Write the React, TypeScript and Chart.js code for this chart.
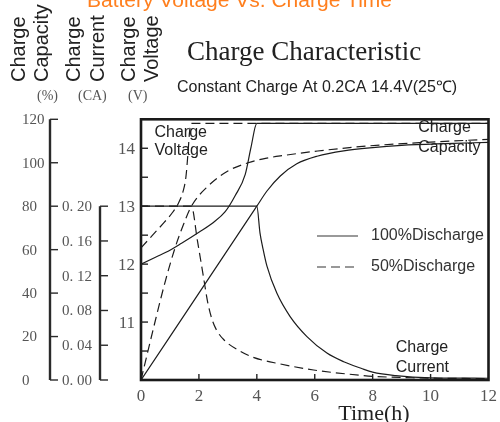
import React, { useEffect, useRef } from "react";
import { Chart, registerables } from "chart.js";

Chart.register(...registerables);

// ---- tick labels ----
const timeTicks = [0, 2, 4, 6, 8, 10, 12];
const timeMinorTicks = [2, 4, 6, 8, 10];
const voltageTicks = [11, 12, 13, 14];
const voltageMinorTicks = [10.5, 11, 11.5, 12, 12.5, 13, 13.5, 14];
const capacityTicks = [0, 20, 40, 60, 80, 100, 120];
const currentTicks = [0, 0.04, 0.08, 0.12, 0.16, 0.2];
const currentTickLabels = ["0. 00", "0. 04", "0. 08", "0. 12", "0. 16", "0. 20"];

// ---- series: [time(h), value] ----
const voltage100: number[][] = [
  [0, 12.0], [0.5, 12.12], [1.0, 12.24], [1.4, 12.36], [2.0, 12.55], [2.5, 12.72],
  [2.9, 12.9], [3.25, 13.18], [3.6, 13.55], [3.8, 14.02], [4.0, 14.43], [12, 14.43],
];
const voltage50: number[][] = [
  [0, 12.28], [0.4, 12.5], [0.8, 12.72], [1.1, 12.9], [1.3, 13.06], [1.45, 13.25],
  [1.55, 13.5], [1.62, 13.9], [1.68, 14.3], [1.74, 14.43], [12, 14.43],
];
const capacity100: number[][] = [
  [0, 0], [2, 40], [4, 80], [4.35, 87], [4.81, 93.9], [5.38, 99.5], [6.08, 103],
  [7.0, 105.5], [8.0, 107], [9.0, 108], [10.5, 108.8], [12, 109.4],
];
const capacity50: number[][] = [
  [0, 0], [0.47, 26], [0.82, 44.5], [1.17, 60.6], [1.45, 71], [1.74, 80], [2.32, 89.3],
  [3.0, 96.2], [3.7, 100], [4.3, 102], [4.9, 103.3], [6.1, 105.4], [7.9, 107.8],
  [10, 109.5], [12, 110.8],
];
const current100: number[][] = [
  [0, 0.2], [4, 0.2], [4.11, 0.169], [4.22, 0.15], [4.35, 0.131], [4.69, 0.1],
  [5.15, 0.073], [5.73, 0.05], [6.42, 0.031], [7.0, 0.021], [7.6, 0.0135],
  [8.0, 0.009], [8.8, 0.005], [10, 0.0025], [12, 0.002],
];
const current50: number[][] = [
  [0, 0.2], [1.74, 0.2], [1.95, 0.16], [2.15, 0.12], [2.3, 0.09], [2.45, 0.07],
  [2.6, 0.058], [2.87, 0.046], [3.38, 0.034], [3.88, 0.026], [4.8, 0.0185],
  [5.96, 0.0115], [7.1, 0.007], [8.03, 0.0042], [9.5, 0.0025], [12, 0.0015],
];

const SERIF = '"Liberation Serif", "DejaVu Serif", serif';
const SANS = '"Liberation Sans", Arial, sans-serif';
const LINE = "#1c1c1c";

const toPts = (a: number[][]) => a.map(([x, y]) => ({ x, y }));

const decor = {
  id: "decor",
  afterDatasetsDraw(chart: any) {
    const { ctx, chartArea: a, scales } = chart;
    const xs = scales.x, yV = scales.yV, yC = scales.yC, yI = scales.yI;
    ctx.save();

    // frame
    ctx.strokeStyle = "#1a1a1a";
    ctx.lineWidth = 2.6;
    ctx.strokeRect(a.left, a.top, a.right - a.left, a.bottom - a.top);

    // voltage ticks (inward)
    ctx.lineWidth = 1.4;
    ctx.strokeStyle = "#222";
    voltageMinorTicks.forEach((v) => {
      const y = yV.getPixelForValue(v);
      ctx.beginPath();
      ctx.moveTo(a.left, y);
      ctx.lineTo(a.left + 7, y);
      ctx.stroke();
    });
    // time ticks (inward)
    timeMinorTicks.forEach((t) => {
      const x = xs.getPixelForValue(t);
      ctx.beginPath();
      ctx.moveTo(x, a.bottom);
      ctx.lineTo(x, a.bottom - 6);
      ctx.stroke();
    });

    // capacity axis
    const capX = 50;
    ctx.lineWidth = 2.4;
    ctx.strokeStyle = "#2a2a2a";
    ctx.beginPath();
    ctx.moveTo(capX, yC.getPixelForValue(0));
    ctx.lineTo(capX, yC.getPixelForValue(120));
    ctx.stroke();
    ctx.lineWidth = 1.4;
    capacityTicks.forEach((v) => {
      const y = yC.getPixelForValue(v);
      ctx.beginPath();
      ctx.moveTo(capX, y);
      ctx.lineTo(capX + 8, y);
      ctx.stroke();
    });

    // current axis
    const curX = 100;
    ctx.lineWidth = 2.4;
    ctx.beginPath();
    ctx.moveTo(curX, yI.getPixelForValue(0));
    ctx.lineTo(curX, yI.getPixelForValue(0.2));
    ctx.stroke();
    ctx.lineWidth = 1.4;
    currentTicks.forEach((v) => {
      const y = yI.getPixelForValue(v);
      ctx.beginPath();
      ctx.moveTo(curX, y);
      ctx.lineTo(curX + 8, y);
      ctx.stroke();
    });

    // tick labels
    ctx.fillStyle = "#555";
    ctx.textBaseline = "middle";
    ctx.font = `15px ${SERIF}`;
    ctx.textAlign = "left";
    capacityTicks.forEach((v) => {
      ctx.fillText(String(v), 22, yC.getPixelForValue(v) + 1);
    });
    currentTicks.forEach((v, i) => {
      ctx.fillText(currentTickLabels[i], 62, yI.getPixelForValue(v) + 1);
    });
    ctx.font = `17px ${SERIF}`;
    ctx.textAlign = "right";
    voltageTicks.forEach((v) => {
      ctx.fillText(String(v), 135, yV.getPixelForValue(v) + 1);
    });
    ctx.textAlign = "center";
    ctx.textBaseline = "alphabetic";
    timeTicks.forEach((t) => {
      ctx.fillText(String(t), xs.getPixelForValue(t), 401);
    });

    // axis title
    ctx.fillStyle = "#222";
    ctx.font = `22px ${SERIF}`;
    ctx.fillText("Time(h)", 374, 420);

    // units
    ctx.fillStyle = "#555";
    ctx.font = `14px ${SERIF}`;
    ctx.textAlign = "left";
    ctx.fillText("(%)", 37, 100);
    ctx.fillText("(CA)", 78, 100);
    ctx.fillText("(V)", 128, 100);

    // rotated axis names
    ctx.fillStyle = "#222";
    ctx.font = `20px ${SANS}`;
    const rot: [string, number][] = [
      ["Charge", 25], ["Capacity", 47.5], ["Charge", 80], ["Current", 104],
      ["Charge", 135], ["Voltage", 157.5],
    ];
    rot.forEach(([s, bx]) => {
      ctx.save();
      ctx.translate(bx, 82);
      ctx.rotate(-Math.PI / 2);
      ctx.fillText(s, 0, 0);
      ctx.restore();
    });

    // titles
    ctx.fillStyle = "#ff7f1e";
    ctx.font = `21px ${SANS}`;
    ctx.fillText("Battery Voltage Vs. Charge Time", 87, 7);
    ctx.fillStyle = "#222";
    ctx.font = `27px ${SERIF}`;
    ctx.fillText("Charge Characteristic", 187, 60);
    ctx.font = `16px ${SANS}`;
    ctx.fillText("Constant Charge At 0.2CA 14.4V(25\u2103)", 177, 92);

    // inner labels
    ctx.font = `16px ${SANS}`;
    ctx.fillText("Charge", 154.5, 136.7);
    ctx.fillText("Voltage", 154.5, 155.3);
    ctx.fillText("Charge", 418.3, 131.7);
    ctx.fillText("Capacity", 418.3, 151.7);
    ctx.fillText("Charge", 395.7, 351.7);
    ctx.fillText("Current", 395.7, 371.7);

    // legend
    ctx.strokeStyle = "#777";
    ctx.lineWidth = 1.3;
    ctx.beginPath();
    ctx.moveTo(317, 236);
    ctx.lineTo(358, 236);
    ctx.stroke();
    ctx.setLineDash([9, 5]);
    ctx.beginPath();
    ctx.moveTo(317, 267);
    ctx.lineTo(358, 267);
    ctx.stroke();
    ctx.setLineDash([]);
    ctx.fillStyle = "#333";
    ctx.textBaseline = "middle";
    ctx.fillText("100%Discharge", 371, 236);
    ctx.fillText("50%Discharge", 371, 267);

    ctx.restore();
  },
};

export default function App() {
  const ref = useRef<HTMLCanvasElement | null>(null);
  useEffect(() => {
    if (!ref.current) return;
    const solid = (data: number[][], axis: string) => ({
      data: toPts(data),
      yAxisID: axis,
      borderColor: LINE,
      borderWidth: 1.2,
      pointRadius: 0,
      showLine: true,
      fill: false,
      cubicInterpolationMode: "monotone" as const,
    });
    const dashed = (data: number[][], axis: string) => ({
      ...solid(data, axis),
      borderDash: [9, 5],
    });
    const chart = new Chart(ref.current, {
      type: "scatter",
      data: {
        datasets: [
          { label: "Voltage 100%", ...solid(voltage100, "yV") },
          { label: "Voltage 50%", ...dashed(voltage50, "yV") },
          { label: "Capacity 100%", ...solid(capacity100, "yC") },
          { label: "Capacity 50%", ...dashed(capacity50, "yC") },
          { label: "Current 50%", ...dashed(current50, "yI") },
          { label: "Current 100%", ...solid(current100, "yI") },
        ] as any,
      },
      options: {
        responsive: false,
        animation: false,
        layout: { padding: { left: 141, right: 11.5, top: 119.3, bottom: 42 } },
        plugins: { legend: { display: false }, tooltip: { enabled: false }, title: { display: false } },
        scales: {
          x: { type: "linear", min: 0, max: 12, display: false },
          yV: { type: "linear", axis: "y", position: "left", min: 10, max: 14.5, display: false },
          yC: { type: "linear", axis: "y", position: "left", min: 0, max: 120, display: false },
          yI: { type: "linear", axis: "y", position: "left", min: 0, max: 0.3, display: false },
        } as any,
      },
      plugins: [decor],
    });
    return () => chart.destroy();
  }, []);
  return (
    <div style={{ position: "absolute", left: 0, top: 0, width: 500, height: 422, background: "#fff" }}>
      <canvas ref={ref} width={500} height={422} />
    </div>
  );
}
